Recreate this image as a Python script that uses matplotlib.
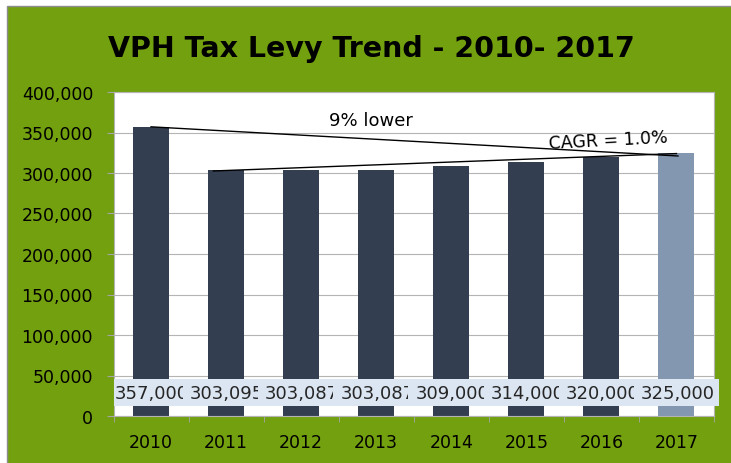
import matplotlib.pyplot as plt
from matplotlib.patches import Rectangle
from matplotlib.transforms import Bbox, TransformedBbox

years = ["2010", "2011", "2012", "2013", "2014", "2015", "2016", "2017"]
levy = [357000, 303095, 303087, 303087, 309000, 314000, 320000, 325000]
labels = ["357,000", "303,095", "303,087", "303,087", "309,000", "314,000", "320,000", "325,000"]
yticks = [0, 50000, 100000, 150000, 200000, 250000, 300000, 350000, 400000]

# trend lines drawn on top of the bars (x in category units)
line_lower = [(0, 357000), (7.02, 321000)]
line_cagr = [(0.83, 302500), (7.0, 324000)]

green = "#72a00f"
dark = "#333f50"
light = "#8497b0"

fig = plt.figure(figsize=(7.31, 4.64), dpi=100)
fig.patch.set_facecolor("white")
fig.patches.append(Rectangle((7 / 731, -0.01), 1, 1 - 7 / 464 + 0.01, transform=fig.transFigure,
                             facecolor=green, edgecolor="#8c8c8c", lw=1, zorder=-5))

ax = fig.add_axes([113.5 / 731, 1 - 417 / 464, (714 - 113.5) / 731, (417 - 93) / 464])
ax.set_facecolor("white")

x = list(range(len(years)))
colors = [dark] * (len(years) - 1) + [light]
ax.bar(x, levy, width=0.48, color=colors, zorder=2)

ax.set_xlim(-0.5, len(years) - 0.5)
ax.set_ylim(0, 400000)
ax.set_yticks(yticks)
ax.set_yticklabels([f"{v:,}" for v in yticks], fontsize=12.5)
ax.set_xticks(x)
ax.set_xticklabels(years, fontsize=12.5)
ax.set_xticks([i - 0.5 for i in range(len(years) + 1)], minor=True)
ax.tick_params(axis="x", which="major", length=0, pad=12)
ax.tick_params(axis="x", which="minor", length=4.5, color="#a6a6a6")
ax.tick_params(axis="y", length=4.7, pad=10, color="#a6a6a6")
ax.yaxis.grid(True, color="#b4b4b4", lw=0.8, zorder=0)
ax.set_axisbelow(True)
for s in ax.spines.values():
    s.set_color("#b4b4b4")
    s.set_linewidth(0.8)

# data label boxes, text cut off at the end of each box (like the original)
n = len(labels)
for i, lab in enumerate(labels):
    w = 1.07 if i == n - 1 else 1.0
    r = Rectangle((i - 0.5, 12400), w, 33400, facecolor="#dce6f2", edgecolor="none", zorder=4,
                  clip_on=False)
    ax.add_patch(r)
    cw = 0.93 if i < n - 1 else w
    t = ax.text(i - 0.5 + 0.02, 29000, lab, fontsize=13, va="center", ha="left", zorder=5,
                color="#262626")
    t.set_clip_path(None)
    t.set_clip_box(TransformedBbox(Bbox([[i - 0.5, 12400], [i - 0.5 + cw, 45800]]), ax.transData))
    t.set_clip_on(True)

ax.plot([p[0] for p in line_lower], [p[1] for p in line_lower], color="black", lw=1, zorder=6)
ax.plot([p[0] for p in line_cagr], [p[1] for p in line_cagr], color="black", lw=1, zorder=6)
ax.text(2.93, 366000, "9% lower", fontsize=13, ha="center", va="center", zorder=6)
ax.text(6.09, 341000, "CAGR = 1.0%", fontsize=12.5, ha="center", va="center", rotation=3, zorder=6)

fig.text(371 / 731, 1 - 57 / 464, "VPH Tax Levy Trend - 2010- 2017", fontsize=20.5, fontweight="bold",
         ha="center", va="baseline")

fig.savefig("out.png", dpi=100)
